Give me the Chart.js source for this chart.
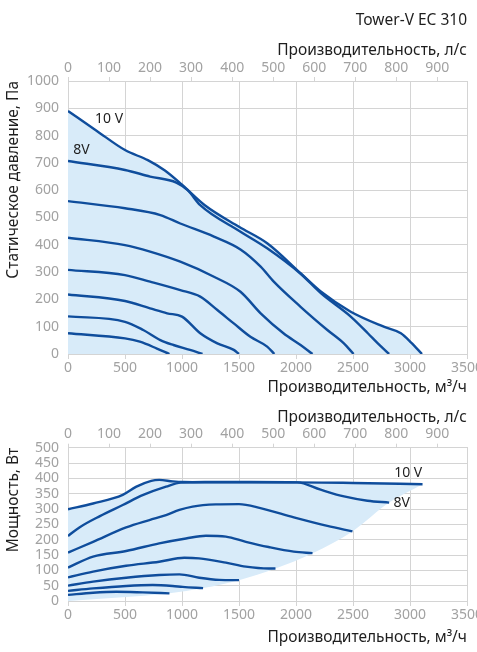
<!DOCTYPE html>
<html lang="ru">
<head>
    <meta charset="UTF-8">
    <title>Tower-V EC 310</title>
    <script src="https://cdn.jsdelivr.net/npm/chart.js"></script>
    <style>
        body {
            margin: 0;
            background: #fff;
            overflow: hidden;
        }
        .box {
            position: absolute;
            left: 0;
            width: 477px;
        }
        #topBox { top: 0; height: 400px; }
        #bottomBox { top: 400px; height: 252px; }
    </style>
</head>
<body>

    <div class="box" id="topBox"><canvas id="pressureChart"></canvas></div>
    <div class="box" id="bottomBox"><canvas id="powerChart"></canvas></div>

    <script>
        // static pressure curves, [m3/h, Pa]
        const pressure10V = [[0, 890], [250, 818], [500, 747], [700, 710], [850, 672], [1000, 620], [1200, 545], [1500, 466], [1750, 405], [2040, 296], [2220, 228], [2480, 155], [2770, 100], [2920, 76], [3010, 42], [3105, 0]];
        const pressure8V = [[0, 707], [500, 674], [720, 650], [950, 628], [1050, 600], [1160, 545], [1513, 448], [1747, 387], [2040, 294], [2220, 222], [2480, 137], [2630, 76], [2720, 38], [2817, 0]];
        const pressureC3 = [[0, 560], [500, 534], [810, 509], [985, 478], [1280, 430], [1513, 383], [1690, 320], [1805, 265], [2040, 173], [2275, 88], [2420, 39], [2505, 0]];
        const pressureC4 = [[0, 426], [500, 399], [720, 375], [985, 338], [1280, 283], [1513, 228], [1690, 149], [1890, 76], [2040, 33], [2145, 0]];
        const pressureC5 = [[0, 308], [500, 289], [720, 265], [985, 234], [1160, 210], [1310, 161], [1454, 112], [1600, 63], [1747, 27], [1810, 0]];
        const pressureC6 = [[0, 218], [500, 194], [720, 167], [870, 149], [1000, 137], [1160, 76], [1310, 39], [1454, 15], [1500, 0]];
        const pressureC7 = [[0, 138], [500, 118], [660, 88], [810, 51], [925, 33], [1070, 15], [1180, 0]];
        const pressureC8 = [[0, 76], [500, 57], [630, 45], [780, 20], [890, 0]];

        // power curves, [m3/h, W]
        const power10V = [[0, 299], [220, 318], [480, 346], [600, 373], [730, 392], [800, 395], [920, 390], [1010, 388], [1500, 387], [2000, 387], [2500, 385], [3110, 381]];
        const power8V = [[0, 212], [100, 240], [280, 277], [480, 313], [660, 346], [860, 373], [990, 386], [1200, 388], [1600, 388], [2011, 387], [2216, 363], [2421, 341], [2627, 327], [2817, 321]];
        const powerC3 = [[0, 158], [220, 193], [510, 240], [714, 264], [860, 280], [977, 297], [1093, 308], [1297, 315], [1500, 316], [1688, 303], [1981, 273], [2275, 245], [2495, 227]];
        const powerC4 = [[0, 109], [220, 145], [510, 163], [800, 188], [1035, 204], [1210, 213], [1385, 210], [1560, 193], [1760, 176], [1980, 161], [2145, 156]];
        const powerC5 = [[0, 77], [220, 96], [510, 115], [800, 128], [1020, 141], [1150, 139], [1385, 125], [1560, 112], [1760, 106], [1820, 106]];
        const powerC6 = [[0, 50], [220, 63], [510, 76], [800, 85], [977, 87], [1151, 76], [1326, 69], [1500, 68]];
        const powerC7 = [[0, 33], [220, 41], [510, 49], [743, 52], [918, 49], [1006, 46], [1185, 42]];
        const powerC8 = [[0, 20], [220, 27], [423, 30], [656, 28], [890, 25]];
        // lower edge of the shaded working area
        const powerLimit = [[0, 0], [890, 25], [1185, 42], [1500, 68], [1820, 106], [2145, 156], [2495, 227], [2817, 321], [3110, 381]];

        // axis ticks
        const flowTicks = [0, 500, 1000, 1500, 2000, 2500, 3000, 3500];
        const flowLsTicks = [0, 100, 200, 300, 400, 500, 600, 700, 800, 900];
        const pressureTicks = [0, 100, 200, 300, 400, 500, 600, 700, 800, 900, 1000];
        const powerTicks = [0, 50, 100, 150, 200, 250, 300, 350, 400, 450, 500];

        // voltage notes, placed in data units
        const pressureNotes = [{ text: '10 V', x: 237, y: 861 }, { text: '8V', x: 46, y: 748 }];
        const powerNotes = [{ text: '10 V', x: 2861, y: 419 }, { text: '8V', x: 2855, y: 320 }];

        const FONT = '"Noto Sans", sans-serif';
        const LINE = '#0f4d9c';
        const AREA = '#d8ebf9';
        const GRID = '#d4d4d4';
        const TICK = '#a2a2a2';
        const TEXT = '#1e1e1e';
        const TITLE_SIZE = 15.5;

        const voltNotes = {
            id: 'voltNotes',
            afterDatasetsDraw(chart, args, opts) {
                const ctx = chart.ctx;
                const x = chart.scales.x, y = chart.scales.y;
                ctx.save();
                ctx.font = '14px ' + FONT;
                ctx.fillStyle = TEXT;
                ctx.textBaseline = 'middle';
                (opts.notes || []).forEach(n => {
                    ctx.fillText(n.text, x.getPixelForValue(n.x), y.getPixelForValue(n.y));
                });
                ctx.restore();
            }
        };

        function toPoints(arr) {
            return arr.map(p => ({ x: p[0], y: p[1] }));
        }

        function curve(arr, fill) {
            return {
                data: toPoints(arr),
                borderColor: LINE,
                borderWidth: 2.4,
                backgroundColor: AREA,
                fill: fill,
                pointRadius: 0,
                cubicInterpolationMode: 'monotone'
            };
        }

        function fixedTicks(list) {
            return function (scale) {
                scale.ticks = list.map(v => ({ value: v }));
            };
        }

        const plainLabel = v => String(v);

        function makeChart(id, datasets, cfg) {
            return new Chart(document.getElementById(id), {
                type: 'line',
                data: { datasets: datasets },
                plugins: [voltNotes],
                options: {
                    responsive: true,
                    maintainAspectRatio: false,
                    animation: false,
                    layout: { padding: { left: 0, right: 10, top: 0, bottom: 0 } },
                    plugins: {
                        legend: { display: false },
                        tooltip: { enabled: false },
                        filler: { drawTime: 'beforeDatasetsDraw' },
                        title: cfg.title,
                        voltNotes: { notes: cfg.notes }
                    },
                    scales: {
                        x: {
                            type: 'linear',
                            position: 'bottom',
                            min: 0,
                            max: 3500,
                            afterBuildTicks: fixedTicks(flowTicks),
                            ticks: { color: TICK, font: { family: FONT, size: 14 }, padding: 1, maxRotation: 0, autoSkip: false, callback: plainLabel },
                            grid: { color: GRID, tickLength: 5 },
                            border: { color: GRID },
                            title: {
                                display: true,
                                text: 'Производительность, м³/ч',
                                align: 'end',
                                color: TEXT,
                                font: { family: FONT, size: TITLE_SIZE },
                                padding: { top: 0, bottom: cfg.bottomTitlePad }
                            },
                            afterFit(scale) {
                                scale.height = cfg.bottomH;
                                scale.paddingRight = 10;
                                scale.paddingLeft = 0;
                            }
                        },
                        x2: {
                            type: 'linear',
                            position: 'top',
                            min: 0,
                            max: 3500 / 3.6,
                            afterBuildTicks: fixedTicks(flowLsTicks),
                            ticks: { color: TICK, font: { family: FONT, size: 14 }, padding: 1, maxRotation: 0, autoSkip: false, callback: plainLabel },
                            grid: { drawOnChartArea: false, color: GRID, tickLength: 4 },
                            border: { color: GRID },
                            title: {
                                display: true,
                                text: 'Производительность, л/с',
                                align: 'end',
                                color: TEXT,
                                font: { family: FONT, size: TITLE_SIZE },
                                padding: { top: cfg.topTitlePad, bottom: 0 }
                            },
                            afterFit(scale) {
                                scale.height = cfg.topH;
                                scale.paddingRight = 10;
                                scale.paddingLeft = 0;
                            }
                        },
                        y: {
                            min: 0,
                            max: cfg.yMax,
                            afterBuildTicks: fixedTicks(cfg.yTicks),
                            ticks: { color: TICK, font: { family: FONT, size: 14 }, padding: 9, autoSkip: false, callback: plainLabel },
                            grid: { color: GRID, drawTicks: false },
                            border: { color: GRID },
                            title: {
                                display: true,
                                text: cfg.yTitle,
                                align: 'end',
                                color: TEXT,
                                font: { family: FONT, size: TITLE_SIZE },
                                padding: { top: 4, bottom: 0 }
                            },
                            afterFit(scale) {
                                scale.width = 68;
                            }
                        }
                    }
                }
            });
        }

        makeChart('pressureChart', [
            curve(pressure10V, 'origin'),
            curve(pressure8V, 'origin'),
            curve(pressureC3, false),
            curve(pressureC4, false),
            curve(pressureC5, false),
            curve(pressureC6, false),
            curve(pressureC7, false),
            curve(pressureC8, false)
        ], {
            title: {
                display: true,
                text: 'Tower-V EC 310',
                align: 'end',
                color: TEXT,
                font: { family: FONT, size: TITLE_SIZE, weight: 'normal' },
                padding: { top: 11, bottom: 12 }
            },
            topH: 39.4,
            topTitlePad: 0,
            bottomH: 46,
            bottomTitlePad: 2.7,
            yMax: 1000,
            yTicks: pressureTicks,
            yTitle: 'Статическое давление, Па',
            notes: pressureNotes
        });

        const limitSet = curve(powerLimit, false);
        limitSet.borderColor = 'rgba(0,0,0,0)';
        limitSet.borderWidth = 0;

        makeChart('powerChart', [
            curve(power10V, { target: 8 }),
            curve(power8V, false),
            curve(powerC3, false),
            curve(powerC4, false),
            curve(powerC5, false),
            curve(powerC6, false),
            curve(powerC7, false),
            curve(powerC8, false),
            limitSet
        ], {
            title: { display: false },
            topH: 47.7,
            topTitlePad: 8.7,
            bottomH: 51,
            bottomTitlePad: 4.7,
            yMax: 500,
            yTicks: powerTicks,
            yTitle: 'Мощность, Вт',
            notes: powerNotes
        });
    </script>
</body>
</html>
